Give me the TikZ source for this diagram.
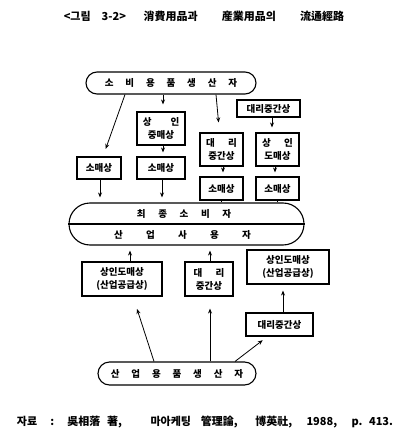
\documentclass[tikz,border=0pt]{standalone}
\usepackage{fontspec}
\newfontfamily\kr{Noto Sans CJK KR}
\usetikzlibrary{shapes.misc,arrows.meta}

\begin{document}
\begin{tikzpicture}[x=1pt, y=-1pt,
    box/.style={rectangle, draw, line width=1.1pt, inner sep=1pt, align=center, font=\kr\bfseries\fontsize{9.5}{13}\selectfont},
    pill/.style={rounded rectangle, draw, line width=1.1pt, inner sep=1pt, font=\kr\bfseries\fontsize{9.5}{13}\selectfont},
    label/.style={font=\kr\bfseries\fontsize{9.5}{13}\selectfont},
    flow/.style={-{Stealth[length=5pt, width=4pt]}, line width=0.8pt},
    link/.style={line width=0.8pt}
]
\useasboundingbox (0,0) rectangle (408,438);

% title and source
\node[font=\kr\bfseries\fontsize{11}{13}\selectfont] (title) at (204,16) {<그림\hspace{1em}3-2>\hspace{1.6em}消費用品과\hspace{2.2em}産業用品의\hspace{2.2em}流通經路};
\node[font=\kr\bfseries\fontsize{11}{13}\selectfont] (src) at (205,422) {자료\hspace{1.2em}:\hspace{1.2em}吳相落\hspace{0.6em}著,\hspace{2.6em}마아케팅\hspace{0.9em}管理論,\hspace{1.6em}博英社,\hspace{1.3em}1988,\hspace{1.3em}p.\hspace{0.6em}413.};

% consumer goods
\node[pill, minimum width=172pt, minimum height=22pt] (cprod) at (171,83) {소\hspace{1.25em}비\hspace{1.25em}용\hspace{1.25em}품\hspace{1.25em}생\hspace{1.25em}산\hspace{1.25em}자};
\node[box, minimum width=48pt, minimum height=33pt] (mbroker) at (161,128.5) {상\hspace{2em}인\\중매상};
\node[box, minimum width=63pt, minimum height=17pt] (agent0) at (268.5,108.5) {대리중간상};
\node[box, minimum width=43pt, minimum height=33pt] (agent1) at (221.5,149.5) {대\hspace{1.4em}리\\중간상};
\node[box, minimum width=43pt, minimum height=33pt] (whole1) at (277.5,149.5) {상\hspace{1.4em}인\\도매상};
\node[box, minimum width=44pt, minimum height=22pt] (retail1) at (99,168) {소매상};
\node[box, minimum width=48pt, minimum height=22pt] (retail2) at (161,168) {소매상};
\node[box, minimum width=43pt, minimum height=23pt] (retail3) at (221.5,188.5) {소매상};
\node[box, minimum width=43pt, minimum height=23pt] (retail4) at (277.5,188.5) {소매상};

% users
\node[pill, minimum width=237pt, minimum height=42pt] (users) at (186.5,224) {};
\draw[line width=1.1pt] (users.west) -- (users.east);
\node[label] (final) at (184,213.5) {최\hspace{1.33em}종\hspace{1.33em}소\hspace{1.33em}비\hspace{1.33em}자};
\node[label] (induser) at (182.5,234.5) {산\hspace{2.45em}업\hspace{2.45em}사\hspace{2.45em}용\hspace{2.45em}자};

% industrial goods
\node[box, minimum width=80pt, minimum height=34pt] (iwhole1) at (122,279) {상인도매상\\(산업공급상)};
\node[box, minimum width=48pt, minimum height=34pt] (iagent1) at (209,279) {대\hspace{1.4em}리\\중간상};
\node[box, minimum width=82pt, minimum height=34pt] (iwhole2) at (288,267) {상인도매상\\(산업공급상)};
\node[box, minimum width=67pt, minimum height=23pt] (iagent2) at (279.5,324.5) {대리중간상};
\node[pill, minimum width=160pt, minimum height=23pt] (iprod) at (177,373.5) {산\hspace{1.25em}업\hspace{1.25em}용\hspace{1.25em}품\hspace{1.25em}생\hspace{1.25em}산\hspace{1.25em}자};

% connectors, consumer side
\draw[flow, shorten >=8pt] ([xshift=-46pt]cprod.south) -- ([xshift=4pt]retail1.north);
\draw[flow, shorten >=7pt] ([xshift=-8pt]cprod.south) -- ([xshift=2pt]mbroker.north);
\draw[flow, shorten >=10pt] ([xshift=45pt]cprod.south) -- ([xshift=-2pt]agent1.north);
\draw[flow, shorten >=5pt] ([xshift=3.5pt]agent0.south) -- ([xshift=-5.5pt]whole1.north);
\draw[flow, shorten >=4pt] ([xshift=2pt]mbroker.south) -- ([xshift=2pt]retail2.north);
\draw[flow, shorten >=4pt] ([xshift=1.5pt]agent1.south) -- ([xshift=1.5pt]retail3.north);
\draw[flow, shorten >=4pt] ([xshift=-2.5pt]whole1.south) -- ([xshift=-2.5pt]retail4.north);
\draw[flow, shorten >=5pt] ([xshift=1pt]retail1.south) -- ([xshift=1pt]retail1.south |- users.north);
\draw[flow, shorten >=5pt] ([xshift=1pt]retail2.south) -- ([xshift=1pt]retail2.south |- users.north);
\draw[link] (retail3.south) -- (retail3.south |- users.north);
\draw[link] (retail4.south) -- (retail4.south |- users.north);

% connectors, industrial side
\draw[flow, shorten >=5pt] ([xshift=8pt]iwhole1.north) -- ([xshift=8pt]iwhole1.north |- users.south);
\draw[flow, shorten >=5pt] ([xshift=1pt]iagent1.north) -- ([xshift=1pt]iagent1.north |- users.south);
\draw[flow, shorten >=6pt] ([xshift=3.5pt]iagent2.north) -- ([xshift=-5pt]iwhole2.south);
\draw[flow, shorten >=13pt] ([xshift=-23pt]iprod.north) -- ([xshift=11pt]iwhole1.south);
\draw[flow, shorten >=12pt] ([xshift=33pt]iprod.north) -- ([xshift=1pt]iagent1.south);
\draw[flow, shorten >=6pt] ([xshift=58pt]iprod.north) -- ([xshift=-12pt]iagent2.south);
\end{tikzpicture}
\end{document}
